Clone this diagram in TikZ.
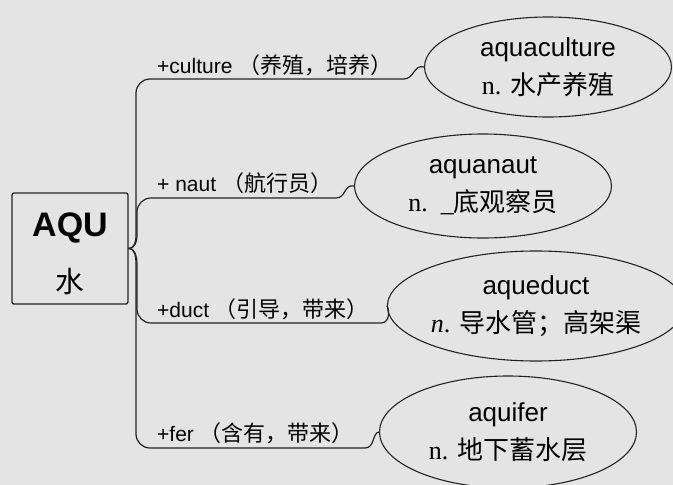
\documentclass[tikz,border=0pt]{standalone}
\usepackage{fontspec}
\setmainfont{Liberation Serif}
\setsansfont{Liberation Sans}
\newfontfamily\cjk{Noto Sans CJK SC}
\usepackage{tikz}
\usetikzlibrary{shapes.geometric}
\definecolor{paper}{RGB}{228,228,228}
\definecolor{ink}{RGB}{35,35,35}
\tikzset{
  word/.style={draw=ink, line width=1.1pt, ellipse, inner sep=0pt, align=center,
    font=\fontsize{26}{38}\selectfont},
  affix/.style={anchor=west, inner sep=0pt, font=\sffamily\fontsize{21}{24}\selectfont},
  branch/.style={draw=ink, line width=1.2pt},
}

\begin{document}
\begin{tikzpicture}[x=1pt,y=-1pt]
\fill[paper] (0,0) rectangle (673,485);
\useasboundingbox (0,0) rectangle (673,485);

% root box
\node[draw=ink, line width=1.3pt, rounded corners=2pt, minimum width=116pt,
  minimum height=111pt, inner sep=0pt] (aqu) at (70,248.5) {};
\node[font=\sffamily\bfseries\fontsize{34}{40}\selectfont] (aquname) at (70,228) {AQU};
\node[font=\cjk\fontsize{29}{34}\selectfont] (aqumean) at (70,282) {水};

% words
\node[word, minimum width=247pt, minimum height=100pt] (cult) at (548,67)
  {{\sffamily aquaculture}\\n. {\cjk 水产养殖}};
\node[word, minimum width=257pt, minimum height=104pt] (naut) at (483,186)
  {{\sffamily aquanaut}\\n.~~\_{\cjk 底观察员}};
\node[word, minimum width=275pt, minimum height=110pt] (duct) at (536,306)
  {{\sffamily aqueduct}\\\textit{n}. {\cjk 导水管；高架渠}};
\node[word, minimum width=257pt, minimum height=112pt] (fer) at (508,432)
  {{\sffamily aquifer}\\n. {\cjk 地下蓄水层}};

% affixes
\node[affix] (lcult) at (157,65) {+culture {\cjk\fontsize{22}{24}\selectfont （养殖，培养）}};
\node[affix] (lnaut) at (157,183) {+ naut {\cjk\fontsize{22}{24}\selectfont （航行员）}};
\node[affix] (lduct) at (157,309) {+duct {\cjk\fontsize{22}{24}\selectfont （引导，带来）}};
\node[affix] (lfer) at (157,433) {+fer {\cjk\fontsize{22}{24}\selectfont （含有，带来）}};

% branches
\draw[branch] (aqu.east) to[out=0,in=-90] (136,236) -- (136,93)
  to[out=90,in=180] (150,79) -- (404,79)
  .. controls (414,79) and (414,64) .. (cult.west);
\draw[branch] (aqu.east) to[out=0,in=-90] (137,236) -- (137,212)
  to[out=90,in=180] (151,198) -- (336,198)
  .. controls (346,198) and (344,184) .. (naut.west);
\draw[branch] (aqu.east) to[out=0,in=90] (137,264) -- (137,309)
  to[out=-90,in=180] (151,323) -- (381,323)
  .. controls (391,323) and (389,307) .. (duct.west);
\draw[branch] (aqu.east) to[out=0,in=90] (136,264) -- (136,434)
  to[out=-90,in=180] (150,448) -- (365,448)
  .. controls (375,448) and (372,433) .. (fer.west);
\end{tikzpicture}
\end{document}
